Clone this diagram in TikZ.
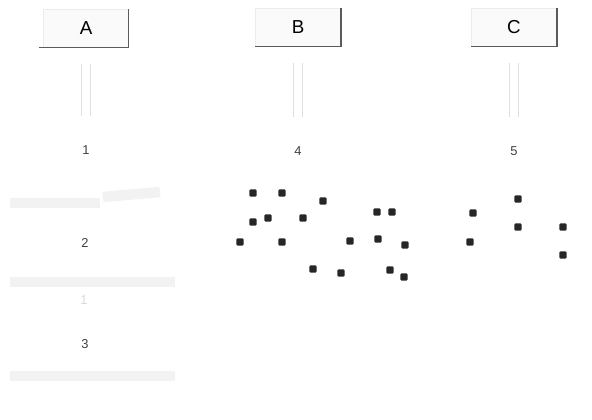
\documentclass[tikz,border=0pt]{standalone}
\usepackage{fontspec}
\setmainfont{Liberation Sans}
\usepackage{tikz}
\usetikzlibrary{arrows.meta, positioning, calc}
\definecolor{paleink}{RGB}{242,242,242}
\definecolor{rimdark}{RGB}{90,90,90}

\tikzset{
  btn/.style={fill=gray!4, draw=gray!15, minimum width=2.55cm, minimum height=1.15cm,
    inner sep=0pt, font=\fontsize{16}{18}\selectfont},
  rim/.style={rimdark, line width=1.3pt},
  numlbl/.style={font=\fontsize{11}{13}\selectfont, text=black!75},
  fadelbl/.style={font=\fontsize{11}{13}\selectfont, text=gray!30},
  dblarrow/.style={double=white, draw=gray!25, double distance=7pt, line width=0.7pt,
    shorten <=0.5cm, shorten >=0.75cm},
  dot/.style={rectangle, rounded corners=1pt, fill=black!85, inner sep=0pt, minimum size=0.22cm},
  smudge/.style={paleink, line width=9pt}
}

\begin{document}
\begin{tikzpicture}[x=0.03cm, y=-0.03cm]
  \useasboundingbox (0,0) rectangle (592,419);

  % header buttons
  \node[btn] (boxA) at (86,28) {A};
  \node[btn] (boxB) at (298,27) {B};
  \node[btn] (boxC) at (514,27) {C};
  \draw[rim] ($(boxA.south west)+(-4,0)$) -- (boxA.south east) -- (boxA.north east);
  \draw[rim] (boxB.south west) -- (boxB.south east) -- (boxB.north east);
  \draw[rim] (boxC.south west) -- (boxC.south east) -- (boxC.north east);

  % step numbers
  \node[numlbl] (numA) at (86,150) {1};
  \node[numlbl] (numB) at (298,151) {4};
  \node[numlbl] (numC) at (514,151) {5};
  \draw[dblarrow] (boxA) -- (numA);
  \draw[dblarrow] (boxB) -- (numB);
  \draw[dblarrow] (boxC) -- (numC);

  % column A
  \node[numlbl] (numA2) at (85,243) {2};
  \node[fadelbl] (numA1) at (84,300) {1};
  \node[numlbl] (numA3) at (85,344) {3};
  \draw[smudge] (10,203) -- (100,203);
  \draw[smudge] (103,197) -- (160,192);
  \draw[smudge] (10,282) -- (175,282);
  \draw[smudge] (10,376) -- (175,376);

  % column B
  \foreach \p in {(253,193),(282,193),(323,201),(377,212),(392,212),
                  (253,222),(268,218),(303,218),(240,242),(282,242),
                  (350,241),(378,239),(405,245),(313,269),(341,273),
                  (390,270),(404,277)}
    \node[dot] at \p {};

  % column C
  \foreach \p in {(518,199),(473,213),(518,227),(563,227),(470,242),(563,255)}
    \node[dot] at \p {};
\end{tikzpicture}
\end{document}
